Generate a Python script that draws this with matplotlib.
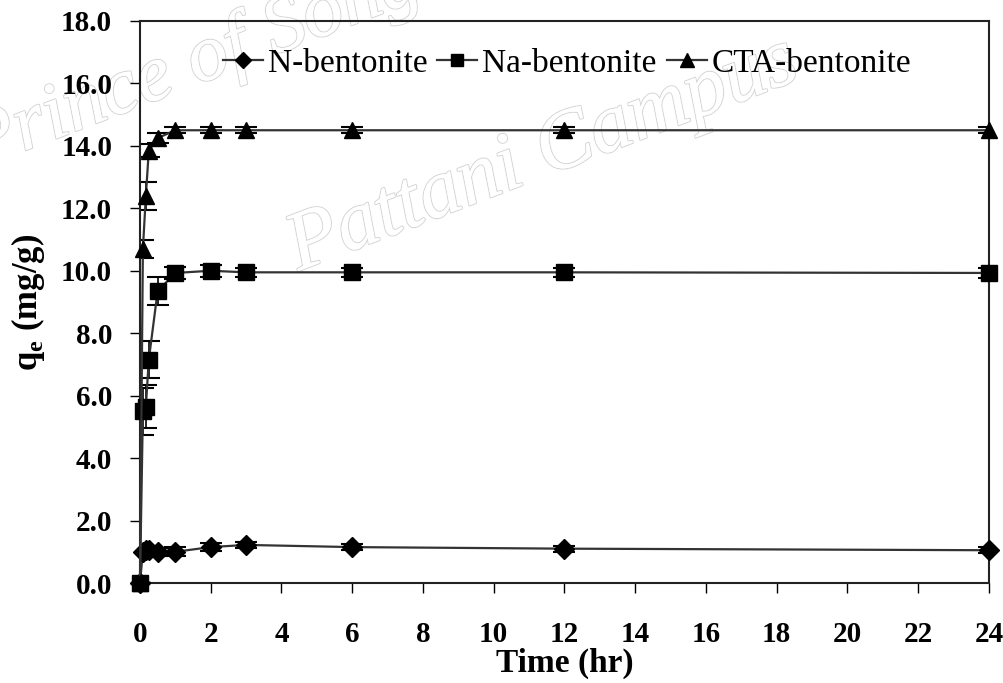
import matplotlib
matplotlib.use("Agg")
from matplotlib import pyplot as plt
import matplotlib.patheffects as pe

# sampling times (hr)
time_hr = [0, 0.083, 0.167, 0.25, 0.5, 1, 2, 3, 6, 12, 24]

# adsorbed amount q_e (mg/g)
n_bentonite = [0, 1.0, 1.05, 1.05, 1.0, 1.0, 1.15, 1.22, 1.15, 1.1, 1.05]
na_bentonite = [0, 5.5, 5.65, 7.15, 9.35, 9.93, 10.0, 9.95, 9.95, 9.95, 9.93]
cta_bentonite = [0, 10.7, 12.4, 13.85, 14.25, 14.5, 14.5, 14.5, 14.5, 14.5, 14.5]

# standard deviations
n_err = [0, 0.12, 0.12, 0.12, 0.12, 0.15, 0.12, 0.1, 0.1, 0.1, 0.1]
na_err = [0, 0.75, 0.7, 0.6, 0.45, 0.2, 0.2, 0.15, 0.15, 0.15, 0.15]
cta_err = [0, 0.3, 0.45, 0.2, 0.15, 0.1, 0.1, 0.1, 0.1, 0.1, 0.1]

x_ticks = list(range(0, 25, 2))
y_ticks = [0, 2, 4, 6, 8, 10, 12, 14, 16, 18]

plt.rcParams["font.family"] = ["Liberation Serif", "DejaVu Serif"]

fig = plt.figure(figsize=(10.04, 6.83), dpi=100)
ax = fig.add_axes([0.1394, 0.1464, 0.8456, 0.8229])
ax.patch.set_alpha(0)

# faint outlined watermark behind the data
halo = [pe.withStroke(linewidth=1.6, foreground="#d6d6d6"), pe.Normal()]
for txt, x, y, size in [("Prince of Songkla University", -0.03, 0.78, 58),
                        ("Pattani Campus", 0.29, 0.63, 60)]:
    fig.text(x, y, txt, fontsize=size, rotation=21, color="white",
             style="italic", path_effects=halo, zorder=-1,
             ha="left", va="center", rotation_mode="anchor")

series = [
    (n_bentonite, n_err, "D", 10, "N-bentonite"),
    (na_bentonite, na_err, "s", 11, "Na-bentonite"),
    (cta_bentonite, cta_err, "^", 12, "CTA-bentonite"),
]
for values, err, marker, ms, label in series:
    ax.errorbar(time_hr, values, yerr=err, fmt="none", ecolor="black",
                elinewidth=1.2, capsize=8, capthick=1.5, zorder=2)
    ax.plot(time_hr, values, color="#333333", linewidth=1.6, marker=marker,
            markersize=ms, markerfacecolor="black", markeredgecolor="black",
            label=label, zorder=3, clip_on=False)

ax.set_xlim(0, 24)
ax.set_ylim(0, 18)
ax.set_xticks(x_ticks)
ax.set_yticks(y_ticks)
ax.set_yticklabels([f"{v:.1f}" for v in y_ticks])
ax.tick_params(direction="out", length=7, width=1, labelsize=21)
ax.tick_params(axis="x", pad=20)
ax.tick_params(axis="y", pad=13)
for lab in ax.get_xticklabels() + ax.get_yticklabels():
    lab.set_fontweight("bold")
for sp in ax.spines.values():
    sp.set_linewidth(1.5)
    sp.set_color("#222222")

ax.set_xlabel("Time (hr)", fontsize=24, fontweight="bold", labelpad=0)
ax.set_ylabel(r"q$_\mathregular{e}$ (mg/g)", fontsize=25, fontweight="bold", labelpad=10)

ax.legend(loc="upper center", bbox_to_anchor=(0.503, 1.005), ncol=3,
          frameon=False, fontsize=24, handlelength=1.2, handletextpad=0.15,
          columnspacing=0.3, markerscale=0.8)

fig.savefig("out.png", dpi=100)
